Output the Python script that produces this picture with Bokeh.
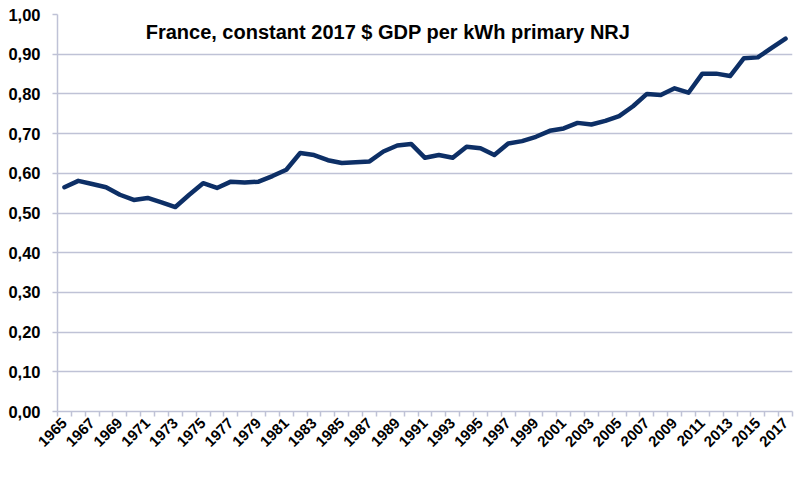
from bokeh.plotting import figure
from bokeh.models import Range1d, FixedTicker, CustomJSTickFormatter, Label
from bokeh.embed import file_html
from bokeh.resources import INLINE
import math

years = list(range(1965, 2018))
gdp_per_kwh = [
    0.565, 0.581, 0.573, 0.565, 0.546, 0.533, 0.538, 0.527, 0.515, 0.546,
    0.575, 0.563, 0.579, 0.577, 0.579, 0.593, 0.609, 0.651, 0.646, 0.633,
    0.626, 0.628, 0.630, 0.655, 0.670, 0.674, 0.639, 0.646, 0.639, 0.667,
    0.663, 0.646, 0.675, 0.681, 0.692, 0.707, 0.713, 0.727, 0.723, 0.732,
    0.744, 0.769, 0.800, 0.797, 0.814, 0.803, 0.851, 0.851, 0.845, 0.890,
    0.892, 0.916, 0.939,
]
label_years = years[::2]
y_ticks = [0.0, 0.1, 0.2, 0.3, 0.4, 0.5, 0.6, 0.7, 0.8, 0.9, 1.0]
title_text = "France, constant 2017 $ GDP per kWh primary NRJ"

GRID = "#bfc2d6"
LINE = "#0d2f66"
FONT = "Liberation Sans"

p = figure(width=799, height=470, output_backend="svg", toolbar_location=None,
           x_range=Range1d(years[0] - 0.5, years[-1] + 0.5),
           y_range=Range1d(0, 1.0))
p.min_border_left = 57
p.min_border_top = 14
p.min_border_right = 7
p.min_border_bottom = 59
p.outline_line_color = None
p.background_fill_color = "white"
p.border_fill_color = "white"

p.line(years, gdp_per_kwh, line_color=LINE, line_width=4.5,
       line_join="round", line_cap="round")

# x axis
xa = p.xaxis[0]
xa.ticker = FixedTicker(ticks=label_years,
                        minor_ticks=[y - 0.5 for y in years] + [years[-1] + 0.5])
xa.major_label_overrides = {y: str(y) for y in label_years}
xa.major_tick_in = 0
xa.major_tick_out = 0
xa.minor_tick_in = 0
xa.minor_tick_out = 5
xa.minor_tick_line_color = GRID
xa.minor_tick_line_width = 1.5
xa.axis_line_color = GRID
xa.axis_line_width = 1.5
xa.major_label_orientation = math.pi / 4
xa.major_label_text_font = FONT
xa.major_label_text_font_style = "bold"
xa.major_label_text_font_size = "15px"
xa.major_label_text_color = "black"
xa.major_label_standoff = 4

# y axis
ya = p.yaxis[0]
ya.ticker = FixedTicker(ticks=y_ticks, minor_ticks=[])
ya.formatter = CustomJSTickFormatter(code="return tick.toFixed(2).replace('.', ',');")
ya.major_tick_in = 0
ya.major_tick_out = 5
ya.major_tick_line_color = GRID
ya.major_tick_line_width = 1.5
ya.axis_line_color = GRID
ya.axis_line_width = 1.5
ya.major_label_text_font = FONT
ya.major_label_text_font_style = "bold"
ya.major_label_text_font_size = "16.5px"
ya.major_label_text_color = "black"
ya.major_label_standoff = 12

p.xgrid.grid_line_color = None
p.ygrid.grid_line_color = GRID
p.ygrid.grid_line_width = 1.5

p.add_layout(Label(x=1988.33, y=0.957, text=title_text, text_align="center",
                   text_baseline="middle", text_font=FONT, text_font_style="bold",
                   text_font_size="20px", text_color="black"))

open("out.html", "w").write(file_html(p, INLINE))
